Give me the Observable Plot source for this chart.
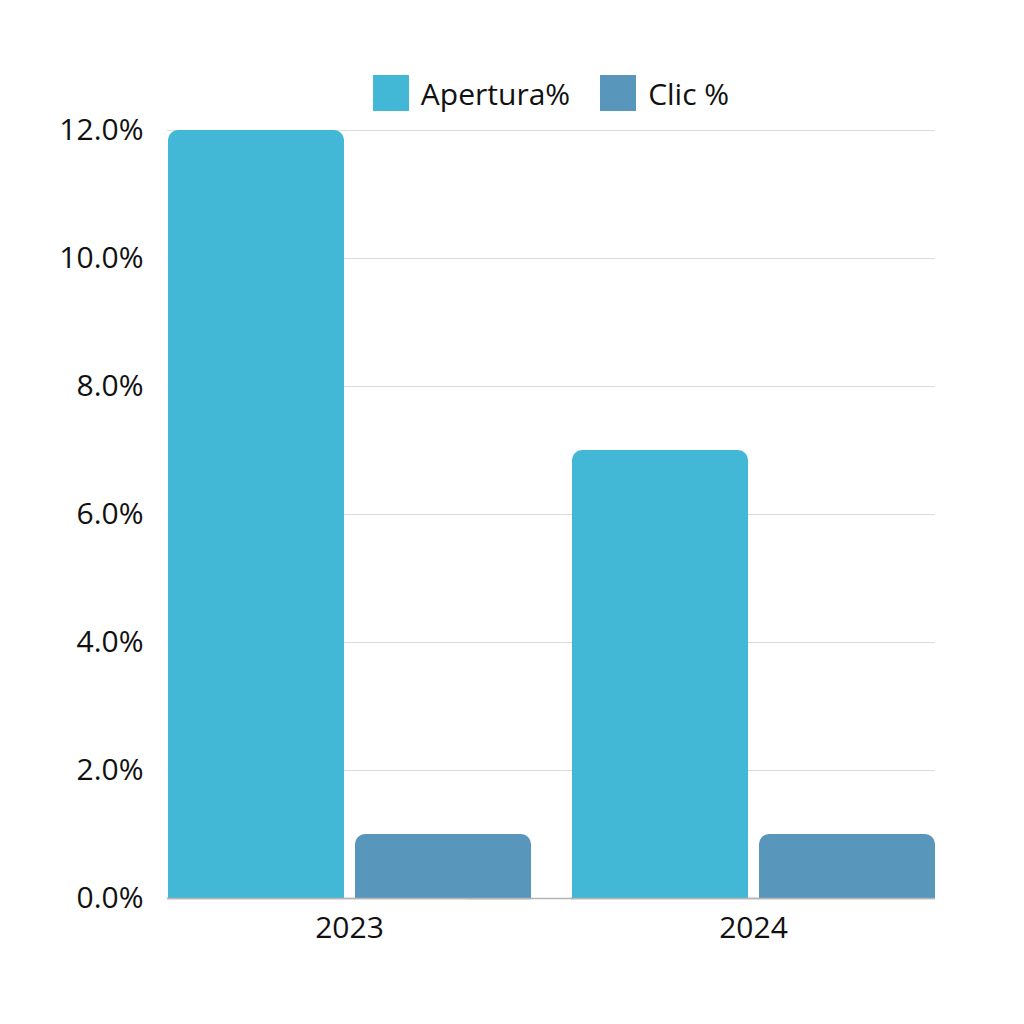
<!DOCTYPE html>
<html>
<head>
<meta charset="utf-8">
<script src="https://cdn.jsdelivr.net/npm/d3@7"></script>
<script src="https://cdn.jsdelivr.net/npm/@observablehq/plot@0.6"></script>
<style>
  body { margin: 0; background: #fff; font-family: "Open Sans", sans-serif; }
  #legend { height: 100px; box-sizing: border-box; padding: 75px 89px 0 167px; display: flex; justify-content: center; gap: 30px; font-size: 30px; color: #111; }
  .item { display: flex; align-items: center; height: 36px; }
  .sw { width: 36px; height: 36px; margin-right: 12px; }
  #chart svg { display: block; }
</style>
</head>
<body>
<div id="legend"></div>
<div id="chart"></div>
<script>
const years = ["2023", "2024"];
const series = ["Apertura%", "Clic %"];
const apertura = [12.0, 7.0];
const clic = [1.0, 1.0];
const colors = ["#42B7D6", "#5896BB"];
const yTicks = [0, 2, 4, 6, 8, 10, 12];

const data = [];
years.forEach((yr, i) => {
  data.push({year: yr, serie: series[0], value: apertura[i]});
  data.push({year: yr, serie: series[1], value: clic[i]});
});
const gridFirst = yTicks.map(v => ({year: years[0], v}));
const gridAll = years.flatMap(yr => yTicks.map(v => ({year: yr, v})));

const legend = document.getElementById("legend");
series.forEach((s, i) => {
  const it = document.createElement("div");
  it.className = "item";
  it.innerHTML = `<div class="sw" style="background:${colors[i]}"></div><span>${s}</span>`;
  legend.appendChild(it);
});

const chart = Plot.plot({
  width: 1024,
  height: 858,
  marginLeft: 167,
  marginRight: 89,
  marginTop: 30,
  marginBottom: 60,
  style: {fontFamily: "Open Sans", fontSize: "30px", color: "#111", background: "#fff"},
  fx: {domain: years, paddingInner: 0.1, paddingOuter: 0, label: null, axis: "bottom", tickSize: 0, tickPadding: 18},
  x: {domain: series, paddingInner: 0.06, paddingOuter: 0, axis: null},
  y: {domain: [0, 12], ticks: yTicks, tickFormat: d => d.toFixed(1) + "%", label: null, tickSize: 0, tickPadding: 24},
  color: {domain: series, range: colors},
  marks: [
    Plot.ruleY(gridAll, {fx: "year", y: "v", stroke: d => d.v === 0 ? "#b5b5b5" : "#dcdcdc", strokeWidth: d => d.v === 0 ? 1.5 : 1.2}),
    Plot.ruleY(gridFirst, {fx: "year", y: "v", stroke: d => d.v === 0 ? "#b5b5b5" : "#dcdcdc", strokeWidth: d => d.v === 0 ? 1.5 : 1.2, insetLeft: 300, insetRight: -42}),
    Plot.barY(data, {fx: "year", x: "serie", y: "value", fill: "serie", ry1: 10}),
    Plot.ruleY([0], {stroke: "#b5b5b5", strokeWidth: 1.5})
  ]
});
document.getElementById("chart").appendChild(chart);
</script>
</body>
</html>
